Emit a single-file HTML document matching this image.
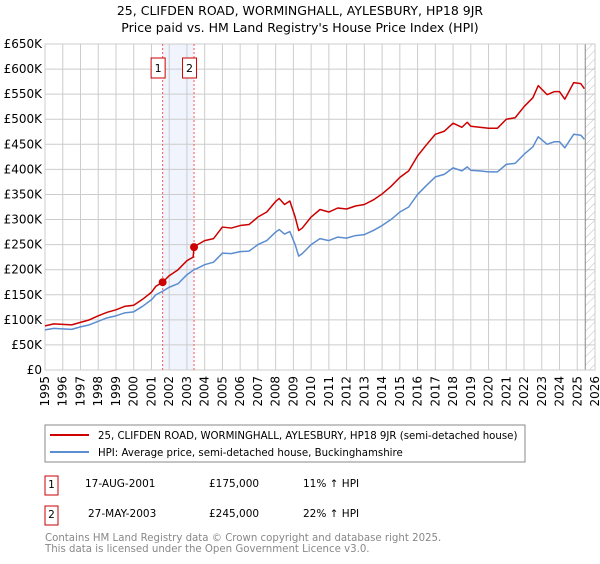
<!DOCTYPE html>
<html><head><meta charset="utf-8"><style>
body{margin:0;background:#fff;font-family:"DejaVu Sans","Liberation Sans",sans-serif;}
svg text{font-family:"DejaVu Sans","Liberation Sans",sans-serif;}
</style></head><body>
<svg id="c" width="600" height="560" xmlns="http://www.w3.org/2000/svg">
<text x="300" y="15" text-anchor="middle" font-size="12.5">25, CLIFDEN ROAD, WORMINGHALL, AYLESBURY, HP18 9JR</text>
<text x="300" y="32" text-anchor="middle" font-size="12.5">Price paid vs. HM Land Registry's House Price Index (HPI)</text>
<g id="grid"></g><g id="marks"></g><g id="axes"></g>
<rect x="45" y="425" width="480" height="37" fill="#fff" stroke="#888"/>
<line x1="50" y1="435" x2="89" y2="435" stroke="#cc0000" stroke-width="2"/>
<text x="98" y="439" font-size="10.2">25, CLIFDEN ROAD, WORMINGHALL, AYLESBURY, HP18 9JR (semi-detached house)</text>
<line x1="50" y1="452" x2="89" y2="452" stroke="#5b8dd0" stroke-width="2"/>
<text x="98" y="456" font-size="10.2">HPI: Average price, semi-detached house, Buckinghamshire</text>
<rect x="45" y="476" width="13" height="19" fill="#fff" stroke="#cc0000"/>
<text x="51.5" y="488" font-size="10.5" text-anchor="middle">1</text>
<text x="85" y="487" font-size="10.5">17-AUG-2001</text>
<text x="209" y="487" font-size="10.5">£175,000</text>
<text x="303" y="487" font-size="10.5">11% ↑ HPI</text>
<rect x="45" y="506" width="13" height="19" fill="#fff" stroke="#cc0000"/>
<text x="51.5" y="518" font-size="10.5" text-anchor="middle">2</text>
<text x="88" y="517" font-size="10.5">27-MAY-2003</text>
<text x="209" y="517" font-size="10.5">£245,000</text>
<text x="303" y="517" font-size="10.5">22% ↑ HPI</text>
<text x="45" y="541" font-size="10.2" fill="#888">Contains HM Land Registry data © Crown copyright and database right 2025.</text>
<text x="45" y="552" font-size="10.2" fill="#888">This data is licensed under the Open Government Licence v3.0.</text>
</svg>
<script>
const yTicks=[0,50,100,150,200,250,300,350,400,450,500,550,600,650];
const xYears=[1995,1996,1997,1998,1999,2000,2001,2002,2003,2004,2005,2006,2007,2008,2009,2010,2011,2012,2013,2014,2015,2016,2017,2018,2019,2020,2021,2022,2023,2024,2025,2026];
const hpiDates=[1995,1995.5,1996,1996.5,1997,1997.5,1998,1998.5,1999,1999.5,2000,2000.5,2001,2001.25,2001.63,2002,2002.5,2003,2003.4,2003.6,2004,2004.5,2005,2005.5,2006,2006.5,2007,2007.5,2008,2008.2,2008.5,2008.8,2009.1,2009.3,2009.5,2010,2010.5,2011,2011.5,2012,2012.5,2013,2013.5,2014,2014.5,2015,2015.5,2016,2016.5,2017,2017.5,2018,2018.5,2018.8,2019,2019.5,2020,2020.5,2021,2021.5,2022,2022.5,2022.8,2023.3,2023.7,2024,2024.3,2024.8,2025.2,2025.4];
const hpiValues=[80,83,82,81,86,90,97,104,108,114,116,127,140,150,157,165,172,190,200,203,210,215,233,232,236,237,250,258,275,280,271,276,250,227,232,250,262,258,265,263,268,270,278,288,300,315,325,350,368,385,390,403,397,405,398,397,395,395,410,412,430,445,465,450,455,455,443,470,468,460];
const priceDates=[1995,1995.5,1996,1996.5,1997,1997.5,1998,1998.5,1999,1999.5,2000,2000.5,2001,2001.25,2001.63,2002,2002.5,2003,2003.35,2003.4,2003.6,2004,2004.5,2005,2005.5,2006,2006.5,2007,2007.5,2008,2008.2,2008.5,2008.8,2009.1,2009.3,2009.5,2010,2010.5,2011,2011.5,2012,2012.5,2013,2013.5,2014,2014.5,2015,2015.5,2016,2016.5,2017,2017.5,2018,2018.5,2018.8,2019,2019.5,2020,2020.5,2021,2021.5,2022,2022.5,2022.8,2023.3,2023.7,2024,2024.3,2024.8,2025.2,2025.4];
const priceValues=[88,92,91,90,95,100,108,115,120,127,129,141,155,167,175,188,200,218,225,245,250,258,262,285,283,288,290,305,315,336,342,330,337,305,278,283,305,320,315,323,321,327,330,339,351,366,384,397,427,449,470,476,492,484,494,486,484,482,482,500,503,525,543,567,549,555,555,540,573,571,561];
const saleDates=[2001.63,2003.4];
const saleValues=[175,245];
const saleLabels=["1","2"];
const X0=45,X1=595,Y0=370,Y1=44;
const xs=d=>X0+(d-1995)/(2026-1995)*(X1-X0);
const ys=v=>Y0-v/650*(Y0-Y1);
const NS="http://www.w3.org/2000/svg";
function mk(t,a,p){const e=document.createElementNS(NS,t);for(const k in a)e.setAttribute(k,a[k]);p.appendChild(e);return e;}
const grid=document.getElementById('grid'),marks=document.getElementById('marks'),axes=document.getElementById('axes');
const band=mk('rect',{x:xs(saleDates[0]),y:Y1,width:xs(saleDates[1])-xs(saleDates[0]),height:Y0-Y1,fill:'#f0f4fd'},grid);


yTicks.forEach(v=>{
 const l=mk('line',{x1:X0,x2:X1,y1:ys(v),y2:ys(v),stroke:'#ccc'},grid);
 
 
 const t=mk('text',{x:X0-3,y:ys(v)+4,'text-anchor':'end','font-size':'12'},axes);
 t.textContent=v===0?'£0':'£'+v+'K';
 
 
});
xYears.forEach(yr=>{
 const l=mk('line',{x1:xs(yr),x2:xs(yr),y1:Y1,y2:Y0,stroke:'#ccc'},grid);
 
 
 const t=mk('text',{x:0,y:0,'text-anchor':'end','font-size':'12',transform:`translate(${xs(yr)+4},${Y0+6}) rotate(-90)`},axes);
 t.textContent=yr;
 
 
});
const defs=mk('defs',{},grid);
const pat=mk('pattern',{id:'h',width:6,height:6,patternUnits:'userSpaceOnUse',patternTransform:'rotate(45)'},defs);
mk('line',{x1:0,y1:0,x2:0,y2:6,stroke:'#bbb','stroke-width':1},pat);
const hx=xs(2025.45);
const hr=mk('rect',{x:hx,y:Y1,width:X1-hx,height:Y0-Y1,fill:'url(#h)'},grid);


mk('line',{x1:hx,x2:hx,y1:Y1,y2:Y0,stroke:'#888'},grid);
const border=mk('rect',{x:X0,y:Y1,width:X1-X0,height:Y0-Y1,fill:'none',stroke:'#ccc'},grid);


saleDates.forEach((d,i)=>{
 const l=mk('line',{x1:xs(d),x2:xs(d),y1:Y1,y2:Y0,stroke:'#ff5555','stroke-dasharray':'2,2'},marks);
 
 
 const bx=xs(d)-11.5;
 const b=mk('rect',{x:bx,y:58,width:14,height:20,fill:'#fff',stroke:'#cc0000'},marks);
 
 
 const t=mk('text',{x:bx+7,y:72,'text-anchor':'middle','font-size':'11'},marks);
 t.textContent=saleLabels[i];
});
function line(ds,vs,col,name){
 const p=mk('polyline',{points:ds.map((d,i)=>xs(d)+','+ys(vs[i])).join(' '),fill:'none',stroke:col,'stroke-width':1.5,'stroke-linejoin':'round'},marks);
 
 
}
line(hpiDates,hpiValues,'#5b8dd0','hpi-line');
line(priceDates,priceValues,'#cc0000','price-line');
saleDates.forEach((d,i)=>{
 const c=mk('circle',{cx:xs(d),cy:ys(saleValues[i]),r:4,fill:'#cc0000'},marks);
 
 
});
</script>
</body></html>
